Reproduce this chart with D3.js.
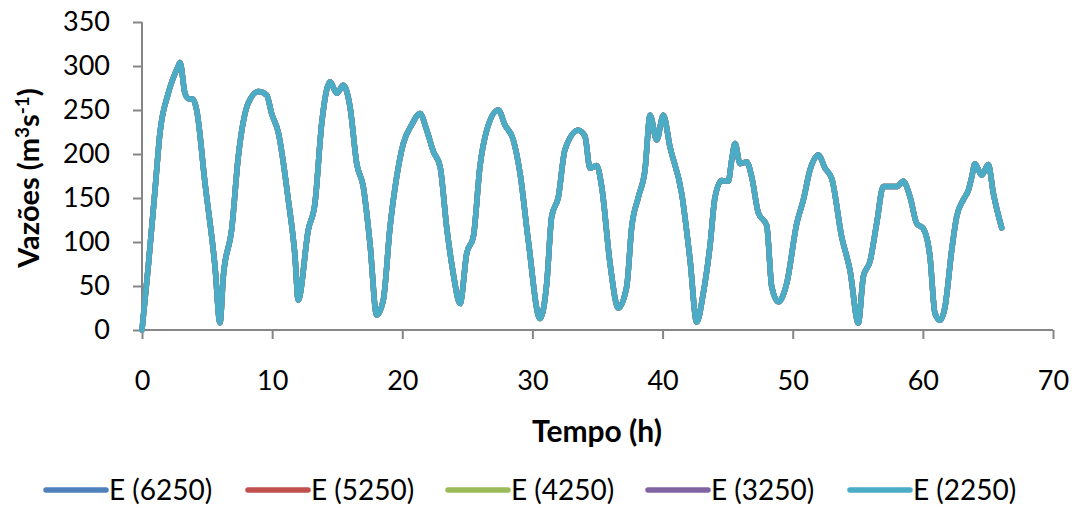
<!DOCTYPE html>
<html>
<head>
<meta charset="utf-8">
<script src="https://cdn.jsdelivr.net/npm/d3@7"></script>
<style>
  html, body { margin: 0; padding: 0; background: #fff; }
  svg { display: block; }
  text { font-family: Lato, "Open Sans", sans-serif; fill: #000; }
</style>
</head>
<body>
<svg id="chart" width="1081" height="508"></svg>
<script>
// ---- data ----
const timeH = [0, 0.48, 1.0, 1.38, 2.02, 2.79, 2.92, 3.3, 3.56, 3.94, 4.2, 4.84, 5.61, 5.99,
  6.25, 6.89, 7.4, 8.17, 8.94, 9.58, 9.96, 10.48, 11.24, 11.76, 12.0,
  12.78, 13.29, 13.81, 14.45, 14.96, 15.47, 15.98, 16.5, 17.0, 17.52, 18.03,
  18.54, 19.06, 19.57, 20.08, 20.72, 21.36, 21.88, 22.38, 22.9, 23.41, 23.92, 24.44,
  24.95, 25.46, 25.97, 26.49, 27.38, 27.89, 28.53, 29.05, 29.68, 30.58,
  31.1, 31.48, 31.99, 32.5, 33.53, 34.04, 34.42, 34.94, 35.32, 35.96, 36.6,
  37.24, 37.63, 38.14, 38.65, 39.04, 39.55, 40.06, 40.57, 41.47, 42.11, 42.62,
  43.13, 43.64, 44.03, 44.54, 45.05, 45.31, 45.57, 45.95, 46.47, 46.85, 47.36, 48.0, 48.39, 48.9,
  49.54, 50.31, 50.82, 51.33, 51.97, 52.48, 53.0, 53.76, 54.4, 55.04,
  55.43, 55.94, 56.45, 56.96, 57.48, 57.99, 58.5, 59.02, 59.53, 60.04, 60.55, 60.93, 61.32,
  61.7, 62.22, 62.6, 63.11, 63.5, 63.76, 64.0, 64.52, 65.03, 65.42, 66.06];
const flow = [0, 72, 159, 224, 269, 300, 304, 269, 263, 262, 250, 167, 72, 8,
  61, 114, 197, 258, 271, 267, 246, 224, 148, 83, 34,
  114, 144, 235, 282, 269, 278, 254, 189, 163, 98, 17,
  34, 117, 174, 212, 233, 246, 227, 203, 186, 117, 64, 30,
  87, 106, 186, 227, 250, 233, 216, 178, 102, 13,
  53, 129, 151, 205, 227, 220, 184, 187, 163, 76, 25,
  49, 117, 151, 182, 244, 216, 244, 208, 155, 80, 9,
  42, 95, 151, 170, 169, 193, 212, 189, 191, 174, 133, 119, 49, 32,
  53, 121, 148, 182, 199, 184, 172, 106, 68, 8,
  61, 78, 121, 163, 163, 163, 169, 151, 121, 115, 83, 19, 11,
  26, 91, 129, 148, 159, 174, 189, 176, 188, 155, 116];
const seriesNames = ["E (6250)", "E (5250)", "E (4250)", "E (3250)", "E (2250)"];
const seriesColors = ["#4F81BD", "#C0504D", "#9BBB59", "#8064A2", "#4BACC6"];
// all five scenarios overlap in the picture: each one plots the same readings
const seriesValues = [flow, flow, flow, flow, flow];
const xTicks = [0, 10, 20, 30, 40, 50, 60, 70];
const yTicks = [0, 50, 100, 150, 200, 250, 300, 350];

(function () {
// ---- layout ----
const svg = d3.select("#chart");
const mLeft = 142, mRight = 1053, mTop = 22, mBottom = 330;
const x = d3.scaleLinear().domain([0, 70]).range([mLeft, mRight]);
const y = d3.scaleLinear().domain([0, 350]).range([mBottom, mTop]);
const axisColor = "#868686";

const gy = svg.append("g").attr("transform", `translate(${mLeft},0)`)
  .call(d3.axisLeft(y).tickValues(yTicks).tickSize(9).tickPadding(23).tickFormat(d3.format("d")));
const gx = svg.append("g").attr("transform", `translate(0,${mBottom})`)
  .call(d3.axisBottom(x).tickValues(xTicks).tickSize(9).tickPadding(32).tickFormat(d3.format("d")));
[gx, gy].forEach(g => {
  g.select(".domain").attr("stroke", axisColor).attr("stroke-width", 2);
  g.selectAll(".tick line").attr("stroke", axisColor).attr("stroke-width", 2);
  g.selectAll(".tick text").style("font-size", "27px").style("font-family", "Lato, sans-serif").attr("fill", "#000");
});
gx.select(".domain").attr("d", `M${mLeft},0H${mRight}`);
gy.select(".domain").attr("d", `M0,${mBottom}V${mTop}`);

const line = d3.line()
  .x((d, i) => x(timeH[i]))
  .y(d => y(d))
  .curve(d3.curveMonotoneX);
seriesValues.forEach((vals, k) => {
  svg.append("path")
    .datum(vals)
    .attr("d", line)
    .attr("fill", "none")
    .attr("stroke", seriesColors[k])
    .attr("stroke-width", 5.5)
    .attr("stroke-linejoin", "round")
    .attr("stroke-linecap", "round");
});

svg.append("text")
  .attr("x", 597).attr("y", 442)
  .attr("text-anchor", "middle")
  .style("font-size", "30px").style("font-weight", "bold")
  .text("Tempo (h)");

const yt = svg.append("text")
  .attr("transform", "translate(39,178) rotate(-90)")
  .attr("text-anchor", "middle")
  .style("font-size", "29px").style("font-weight", "bold");
yt.append("tspan").text("Vazões (m");
yt.append("tspan").text("3").attr("dy", -10).style("font-size", "19px");
yt.append("tspan").text("s").attr("dy", 10);
yt.append("tspan").text("-1").attr("dy", -10).style("font-size", "19px");
yt.append("tspan").text(")").attr("dy", 10);

const legendX = [46, 248, 448, 648, 850];
const legend = svg.append("g");
seriesNames.forEach((name, k) => {
  const g = legend.append("g").attr("transform", `translate(${legendX[k]},490)`);
  g.append("line").attr("x1", 0).attr("x2", 60).attr("y1", 0).attr("y2", 0)
    .attr("stroke", seriesColors[k]).attr("stroke-width", 5.5).attr("stroke-linecap", "round");
  g.append("text").attr("x", 63).attr("y", 10)
    .style("font-size", "28px").text(name);
});
})();
</script>
</body>
</html>
